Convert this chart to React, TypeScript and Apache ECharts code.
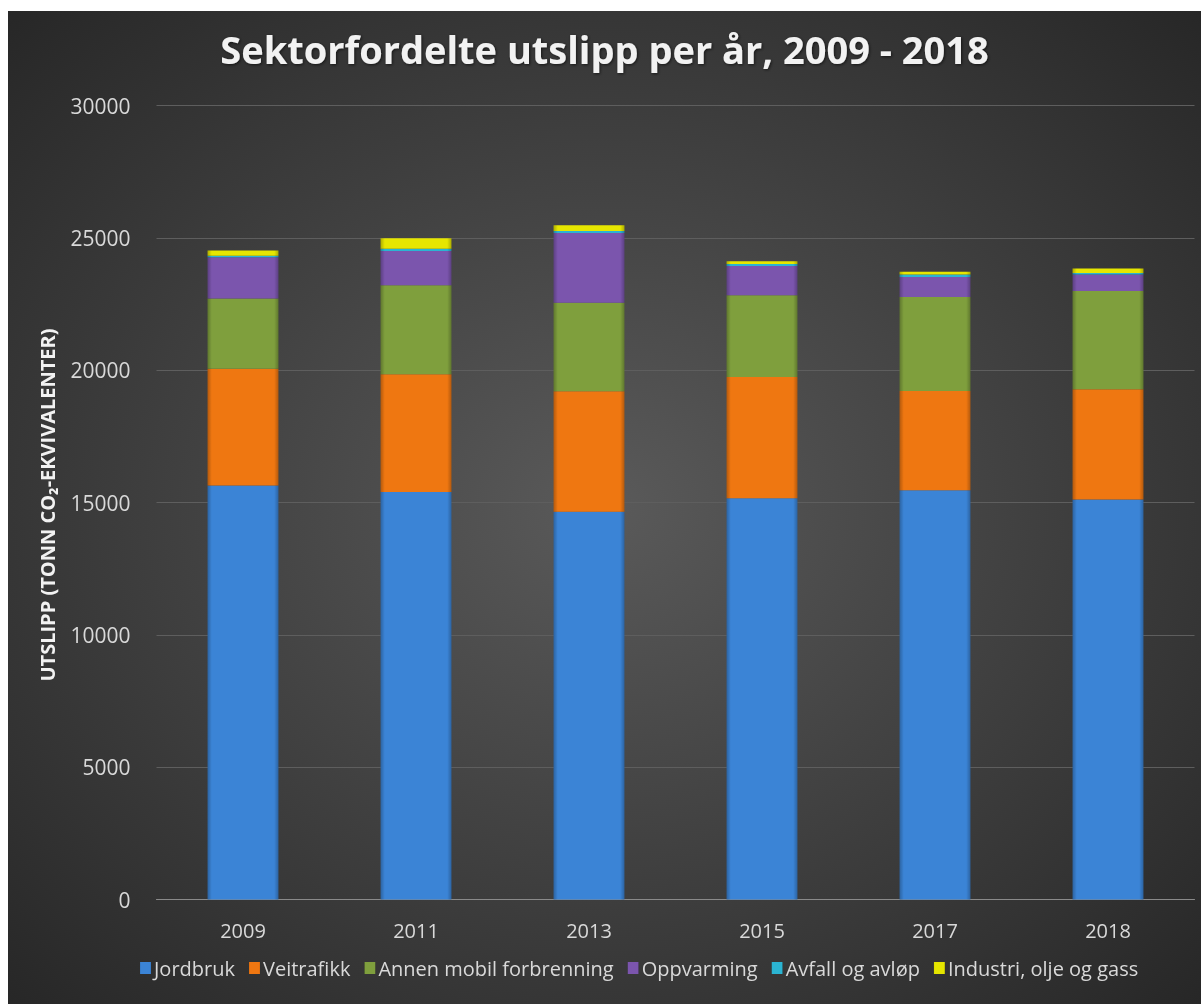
import React, { useEffect, useRef } from 'react';
import * as echarts from 'echarts';

const years = ['2009', '2011', '2013', '2015', '2017', '2018'];
const jordbruk = [15650, 15400, 14650, 15160, 15470, 15120];
const veitrafikk = [4410, 4450, 4560, 4590, 3750, 4160];
const annenMobil = [2650, 3360, 3340, 3090, 3550, 3720];
const oppvarming = [1560, 1300, 2640, 1100, 760, 620];
const avfall = [60, 80, 70, 80, 90, 60];
const industri = [200, 400, 220, 100, 100, 170];

const seriesNames = [
  'Jordbruk',
  'Veitrafikk',
  'Annen mobil forbrenning',
  'Oppvarming',
  'Avfall og avløp',
  'Industri, olje og gass',
];
const seriesData = [jordbruk, veitrafikk, annenMobil, oppvarming, avfall, industri];
const colors = ['#3b84d6', '#ef7711', '#7f9f3d', '#7b55ad', '#2bb4d2', '#e6e600'];
const yTicks = { min: 0, max: 30000, interval: 5000 };

const title = 'Sektorfordelte utslipp per år, 2009 - 2018';
const yName = 'UTSLIPP (TONN CO₂-EKVIVALENTER)';

const FONT = '"Open Sans", "Noto Sans", sans-serif';

function shade(hex: string, f: number): string {
  const n = parseInt(hex.slice(1), 16);
  let r = (n >> 16) & 255, g = (n >> 8) & 255, b = n & 255;
  const adj = (c: number) => Math.max(0, Math.min(255, Math.round(f < 0 ? c * (1 + f) : c + (255 - c) * f)));
  r = adj(r); g = adj(g); b = adj(b);
  return '#' + ((1 << 24) | (r << 16) | (g << 8) | b).toString(16).slice(1);
}

export default function App() {
  const ref = useRef<HTMLDivElement>(null);
  useEffect(() => {
    if (!ref.current) return;
    const chart = echarts.init(ref.current, undefined, { renderer: 'svg' });
    const series = seriesNames.map((name, i) => ({
      name,
      type: 'bar',
      stack: 'total',
      barWidth: '41%',
      data: seriesData[i],
      itemStyle: {
        color: new echarts.graphic.LinearGradient(0, 0, 1, 0, [
          { offset: 0, color: shade(colors[i], -0.25) },
          { offset: 0.06, color: colors[i] },
          { offset: 0.94, color: colors[i] },
          { offset: 1, color: shade(colors[i], -0.25) },
        ]),
      },
    }));
    chart.setOption({
      animation: false,
      backgroundColor: new echarts.graphic.RadialGradient(0.5, 0.5, 0.72, [
        { offset: 0, color: '#5a5a5a' },
        { offset: 1, color: '#262626' },
      ]),
      color: colors,
      title: {
        text: title,
        left: 'center',
        top: 14,
        textStyle: {
          color: '#f2f2f2',
          fontFamily: FONT,
          fontWeight: 'bold',
          fontSize: 38,
          textShadowColor: 'rgba(0,0,0,0.6)',
          textShadowBlur: 3,
          textShadowOffsetX: 1,
          textShadowOffsetY: 1,
        },
      },
      grid: { left: 148.5, right: 6.5, top: 94.7, bottom: 104.5, containLabel: false },
      legend: {
        data: seriesNames,
        left: 127,
        top: 942,
        itemWidth: 11,
        itemHeight: 12,
        itemGap: 14,
        icon: 'rect',
        textStyle: { color: '#d9d9d9', fontFamily: FONT, fontSize: 20, padding: [0, 0, 0, -2] },
      },
      xAxis: {
        type: 'category',
        data: years,
        axisTick: { show: false },
        axisLine: { lineStyle: { color: '#8a8a8a', width: 1 } },
        axisLabel: { color: '#d9d9d9', fontFamily: FONT, fontSize: 20, margin: 21 },
      },
      yAxis: {
        type: 'value',
        min: yTicks.min,
        max: yTicks.max,
        interval: yTicks.interval,
        axisLine: { show: false },
        axisTick: { show: false },
        axisLabel: {
          color: '#d9d9d9',
          fontFamily: FONT,
          fontSize: 21,
          margin: 26,
          formatter: (v: number) => String(v),
        },
        splitLine: { lineStyle: { color: '#5e5e5e', width: 1 } },
      },
      graphic: [
        {
          type: 'text',
          x: 39,
          y: 494,
          rotation: Math.PI / 2,
          style: {
            text: yName,
            fill: '#f2f2f2',
            fontFamily: FONT,
            fontWeight: 'bold',
            fontSize: 20,
            align: 'center',
            verticalAlign: 'middle',
          },
        },
      ],
      series,
    });
    return () => chart.dispose();
  }, []);
  return (
    <div
      ref={ref}
      style={{ position: 'fixed', left: 8, top: 11, width: 1193, height: 993 }}
    />
  );
}
